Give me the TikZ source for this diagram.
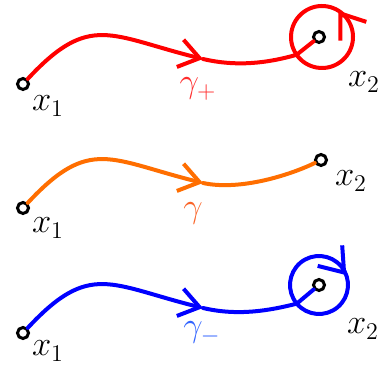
\documentclass[tikz,border=0pt]{standalone}
\usepackage{amsmath,amssymb}
\usepackage{xcolor}
\usepackage{tikz}
\usetikzlibrary{arrows.meta,calc}
\definecolor{gplus}{RGB}{255,45,45}
\definecolor{gmid}{RGB}{250,100,40}
\definecolor{gminus}{RGB}{50,100,255}
\definecolor{pathorange}{RGB}{255,110,0}
\tikzset{
  pnt/.style={circle, draw=black, line width=1.5pt, fill=white, inner sep=0pt, minimum size=5.5pt},
  curve/.style={line width=2pt, line cap=round, line join=round},
  barb/.style={curve, -{Straight Barb[length=10pt,width=14pt]}},
  loopbarb/.style={curve, -{Straight Barb[length=11pt,width=16pt]}},
  lbl/.style={font=\fontsize{16.5}{20}\selectfont, inner sep=0pt},
}
\begin{document}
\begin{tikzpicture}[x=0.5pt, y=0.5pt]
  \useasboundingbox (0,0) rectangle (385,369);
  % gamma_+
  \begin{scope}[shift={(0,285)}]
    \node[pnt] (x1p) at (23,0) {};
    \node[pnt] (x2p) at (319,47) {};
    \coordinate (mp) at (203,25);
    \coordinate (cp) at ($(x2p)+(3,0)$);
    \coordinate (ep) at ($(cp)+(215:31)$);
    \coordinate (ap) at ($(cp)+(58:31)$);
    \draw[barb, red] (x1p) .. controls (90,72) and (110,48) .. (mp);
    \draw[curve, red] (mp) .. controls (237,17) and (268,21) .. (ep);
    \draw[curve, red] (ep) arc[start angle=215, end angle=575, radius=31] -- (x2p);
    \draw[loopbarb, red] ($(ap)+(306:6)$) -- (ap);
    \node[lbl] (l1p) at ($(x1p)+(25,-22)$) {$x_1$};
    \node[lbl] (l2p) at ($(x2p)+(45,-45)$) {$x_2$};
    \node[lbl, text=gplus] (gp) at (198,-5) {$\gamma_+$};
  \end{scope}
  % gamma
  \begin{scope}[shift={(0,161)}]
    \node[pnt] (x1m) at (23,0) {};
    \node[pnt] (x2m) at (321,48) {};
    \coordinate (mm) at (203,25);
    \draw[barb, pathorange] (x1m) .. controls (90,72) and (110,48) .. (mm);
    \draw[curve, pathorange] (mm) .. controls (240,17) and (290,33) .. (x2m);
    \node[lbl] (l1m) at ($(x1m)+(25,-20)$) {$x_1$};
    \node[lbl] (l2m) at ($(x2m)+(30,-21)$) {$x_2$};
    \node[lbl, text=gmid] (gm) at (193,-5) {$\gamma$};
  \end{scope}
  % gamma_-
  \begin{scope}[shift={(0,36)}]
    \node[pnt] (x1n) at (23,0) {};
    \node[pnt] (x2n) at (319,48) {};
    \coordinate (mn) at (203,25);
    \coordinate (en) at ($(x2n)+(220:29)$);
    \coordinate (an) at ($(x2n)+(20:29)$);
    \draw[barb, blue] (x1n) .. controls (90,72) and (110,48) .. (mn);
    \draw[curve, blue] (mn) .. controls (237,17) and (268,22) .. (en);
    \draw[curve, blue] (en) arc[start angle=220, end angle=-140, radius=29] -- (x2n);
    \draw[loopbarb, blue] ($(an)+(130:6)$) -- (an);
    \node[lbl] (l1n) at ($(x1n)+(25,-18)$) {$x_1$};
    \node[lbl] (l2n) at ($(x2n)+(44,-44)$) {$x_2$};
    \node[lbl, text=gminus] (gn) at (202,0) {$\gamma_-$};
  \end{scope}
\end{tikzpicture}
\end{document}
